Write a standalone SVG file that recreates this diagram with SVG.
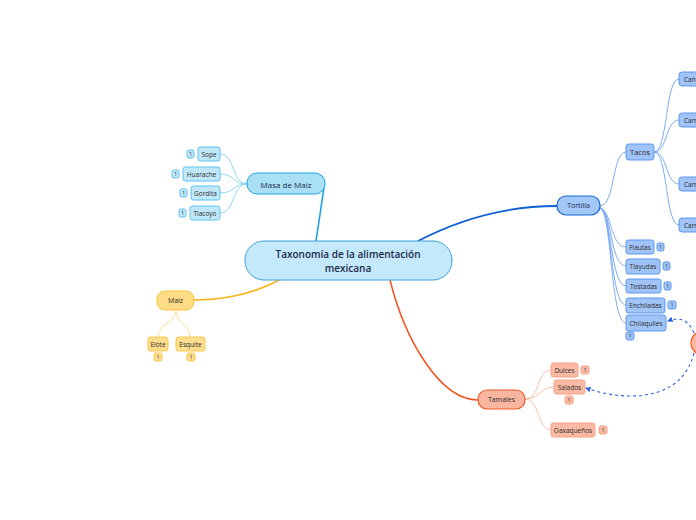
<svg xmlns="http://www.w3.org/2000/svg" width="696" height="520" viewBox="0 0 696 520">
<defs>
<marker id="arr" viewBox="0 0 6 6" refX="5" refY="3" markerWidth="5" markerHeight="5" orient="auto">
<path d="M0,0 L6,3 L0,6 z" fill="#2f62e0"/>
</marker>
<style>
text{font-family:"Open Sans","Liberation Sans",sans-serif;fill:#2b2b2b;text-anchor:middle;dominant-baseline:central}
.c{fill:none}
.cy{fill:#c0e8f9;stroke:#5fc3ee;stroke-width:1}
.bl{fill:#a0c4f8;stroke:#5b97ec;stroke-width:1}
.sa{fill:#f9b9a3;stroke:#f7a388;stroke-width:1}
.ye{fill:#fedd8c;stroke:#f6c94e;stroke-width:1}
.s{font-size:6.5px}
.b{font-size:5.5px}
.dash{fill:none;stroke:#2f62e0;stroke-width:1.1;stroke-dasharray:3 3;marker-end:url(#arr)}
</style>
</defs>
<rect width="696" height="520" fill="#ffffff"/>
<g id="connectors" class="c">
<path d="M316 241 Q320 215 324 187" stroke="#1ba0e0" stroke-width="1.6" fill="none"/>
<path d="M194 300 C230 300 260 291 283 278" stroke="#fbb41a" stroke-width="1.6" fill="none"/>
<path d="M418 241 C470 214 520 206 557 206" stroke="#0d5fd4" stroke-width="1.8" fill="none"/>
<path d="M390 280 C405 340 440 400 478 400" stroke="#f4511e" stroke-width="1.5" fill="none"/>
<g stroke="#7fd0f2" stroke-width="0.9" fill="none">
<path d="M247 184 C232 184 235 154 220 154"/>
<path d="M247 184 C232 184 235 174 220 174"/>
<path d="M247 184 C232 184 235 193 220 193"/>
<path d="M247 184 C232 184 235 213 220 213"/>
</g>
<g stroke="#fbd98a" stroke-width="0.9" fill="none">
<path d="M176 310 C176 324 158 323 158 337"/>
<path d="M176 310 C176 324 190 323 190 337"/>
</g>
<g stroke="#6fa3ef" stroke-width="0.9" fill="none">
<path d="M600 206 C615 206 612 152 626 152"/>
<path d="M654 152 C668 152 665 79 679 79"/>
<path d="M654 152 C668 152 665 120 679 120"/>
<path d="M654 152 C668 152 665 184 679 184"/>
<path d="M654 152 C668 152 665 225 679 225"/>
<path d="M600 208 C612 210 610 247 626 247"/>
<path d="M600 208 C612 210 610 266 626 266"/>
<path d="M600 208 C612 210 610 286 626 286"/>
<path d="M600 208 C612 210 610 305 626 305"/>
<path d="M600 208 C612 210 610 323 626 323"/>
</g>
<g stroke="#fbb9a4" stroke-width="0.9" fill="none">
<path d="M525 399 C540 399 537 370 551 370"/>
<path d="M525 399 C540 399 540 387 554 387"/>
<path d="M525 399 C540 399 537 430 551 430"/>
</g>
<path class="dash" d="M694 333 Q686 314 668 321"/>
<path class="dash" d="M694 353 C682 402 625 402 586 388"/>
</g>
<g id="central">
<rect x="245" y="241" width="207" height="39" rx="19" fill="#c4e9fb" stroke="#3f9fdb" stroke-width="1"/>
<text x="348" y="254" style="font-size:10px;font-weight:600;fill:#1b2a4a">Taxonomía de la alimentación</text>
<text x="348" y="268" style="font-size:10px;font-weight:600;fill:#1b2a4a">mexicana</text>
</g>
<g id="masa">
<rect x="247" y="173" width="78" height="21" rx="10" fill="#a9e0f7" stroke="#1fa3e3" stroke-width="1"/>
<text x="286" y="184" style="font-size:8px;fill:#1b2a4a">Masa de Maíz</text>
</g>
<g id="sope"><rect class="cy" x="198" y="147" width="22" height="14" rx="2.5"/><text class="s" x="209" y="154">Sope</text><rect class="cy" x="187" y="150" width="7" height="8" rx="2"/><text class="b" x="190.5" y="154">1</text></g>
<g id="huarache"><rect class="cy" x="183" y="167" width="37" height="14" rx="2.5"/><text class="s" x="201.5" y="174">Huarache</text><rect class="cy" x="172" y="170" width="7" height="8" rx="2"/><text class="b" x="175.5" y="174">1</text></g>
<g id="gordita"><rect class="cy" x="191" y="186" width="29" height="14" rx="2.5"/><text class="s" x="205.5" y="193">Gordita</text><rect class="cy" x="180" y="189" width="7" height="8" rx="2"/><text class="b" x="183.5" y="193">1</text></g>
<g id="tlacoyo"><rect class="cy" x="190" y="206" width="30" height="14" rx="2.5"/><text class="s" x="205" y="213">Tlacoyo</text><rect class="cy" x="179" y="209" width="7" height="8" rx="2"/><text class="b" x="182.5" y="213">1</text></g>
<g id="maiz">
<rect x="157" y="291" width="37" height="19" rx="8" fill="#fedc86" stroke="#f9c23c" stroke-width="1"/>
<text x="175.5" y="300.5" style="font-size:7px">Maíz</text>
</g>
<g id="elote"><rect class="ye" x="148" y="337" width="20" height="14" rx="2.5"/><text class="s" x="158" y="344">Elote</text><rect class="ye" x="154" y="353" width="8" height="8" rx="2"/><text class="b" x="158" y="357">1</text></g>
<g id="esquite"><rect class="ye" x="176" y="337" width="29" height="14" rx="2.5"/><text class="s" x="190.5" y="344">Esquite</text><rect class="ye" x="187" y="353" width="8" height="8" rx="2"/><text class="b" x="191" y="357">1</text></g>
<g id="tortilla">
<rect x="557" y="196" width="43" height="19" rx="9" fill="#a2c7f9" stroke="#1a66d6" stroke-width="1.2"/>
<text x="578.5" y="205.5" style="font-size:7px;fill:#1b2a4a">Tortilla</text>
</g>
<g id="tacos"><rect class="bl" x="626" y="144" width="28" height="16" rx="3"/><text x="640" y="152" style="font-size:7.5px">Tacos</text></g>
<g id="canasta"><rect class="bl" x="679" y="72" width="30" height="14" rx="3"/><text class="s" x="684" y="79" style="text-anchor:start">Cana</text></g>
<g id="carn1"><rect class="bl" x="679" y="113" width="30" height="14" rx="3"/><text class="s" x="684" y="120" style="text-anchor:start">Carn</text></g>
<g id="carn2"><rect class="bl" x="679" y="177" width="30" height="14" rx="3"/><text class="s" x="684" y="184" style="text-anchor:start">Carn</text></g>
<g id="carn3"><rect class="bl" x="679" y="218" width="30" height="14" rx="3"/><text class="s" x="684" y="225" style="text-anchor:start">Carn</text></g>
<g id="flautas"><rect class="bl" x="626" y="240" width="28" height="14" rx="2.5"/><text class="s" x="640" y="247">Flautas</text><rect class="bl" x="657" y="243" width="7" height="8" rx="2"/><text class="b" x="660.5" y="247">1</text></g>
<g id="tlayudas"><rect class="bl" x="626" y="259" width="34" height="15" rx="2.5"/><text class="s" x="643" y="266.5">Tlayudas</text><rect class="bl" x="663" y="262" width="7" height="8" rx="2"/><text class="b" x="666.5" y="266">1</text></g>
<g id="tostadas"><rect class="bl" x="626" y="279" width="35" height="14" rx="2.5"/><text class="s" x="643.5" y="286">Tostadas</text><rect class="bl" x="664" y="282" width="7" height="8" rx="2"/><text class="b" x="667.5" y="286">1</text></g>
<g id="enchiladas"><rect class="bl" x="626" y="298" width="39" height="15" rx="2.5"/><text class="s" x="645.5" y="305.5">Enchiladas</text><rect class="bl" x="668" y="301" width="8" height="8" rx="2"/><text class="b" x="672" y="305">1</text></g>
<g id="chilaquiles"><rect class="bl" x="626" y="315" width="40" height="16" rx="2.5"/><text class="s" x="646" y="323">Chilaquiles</text><rect class="bl" x="626" y="332" width="8" height="8" rx="2"/><text class="b" x="630" y="336">1</text></g>
<g id="tamales">
<rect x="478" y="390" width="47" height="19" rx="9" fill="#f8b6a0" stroke="#f05a22" stroke-width="1.2"/>
<text x="501.5" y="399.5" style="font-size:7px">Tamales</text>
</g>
<g id="dulces"><rect class="sa" x="551" y="363" width="27" height="14" rx="2.5"/><text class="s" x="564.5" y="370">Dulces</text><rect class="sa" x="581" y="366" width="8" height="8" rx="2"/><text class="b" x="585" y="370">1</text></g>
<g id="salados"><rect class="sa" x="554" y="380" width="31" height="14" rx="2.5"/><text class="s" x="569.5" y="387">Salados</text><rect class="sa" x="565" y="396" width="8" height="8" rx="2"/><text class="b" x="569" y="400">1</text></g>
<g id="oaxaquenos"><rect class="sa" x="551" y="423" width="44" height="14" rx="2.5"/><text class="s" x="573" y="430">Oaxaqueños</text><rect class="sa" x="599" y="426" width="8" height="8" rx="2"/><text class="b" x="603" y="430">1</text></g>
<g id="circle-node"><circle cx="703" cy="343" r="12" fill="#f9b8a2" stroke="#f05a22" stroke-width="1.2"/></g>
</svg>
